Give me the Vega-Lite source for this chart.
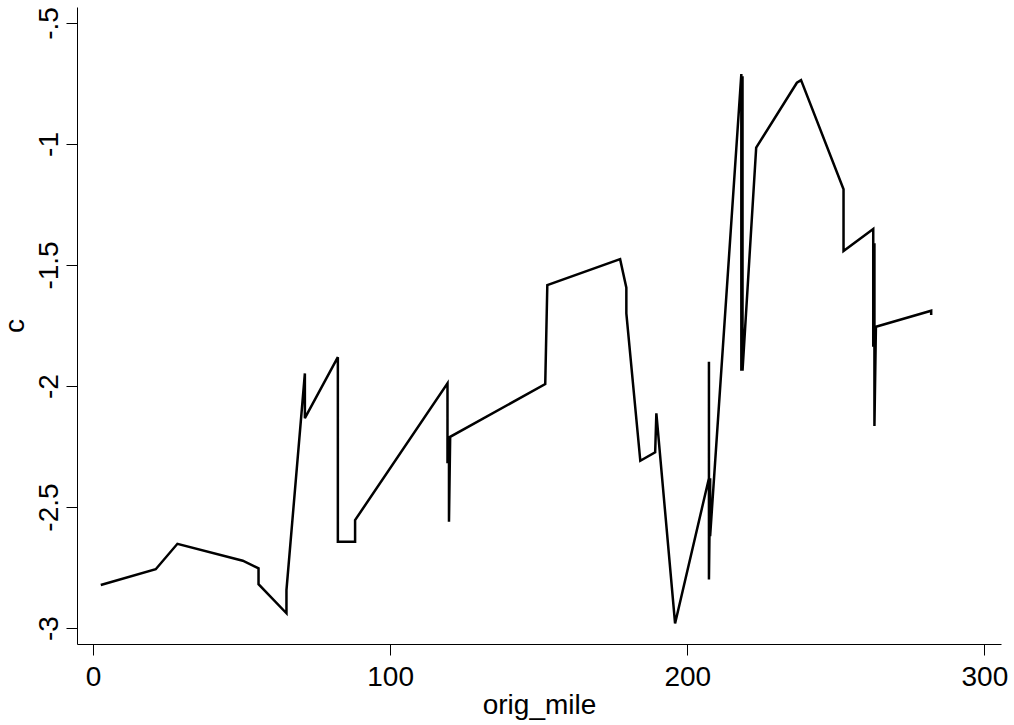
{
  "$schema": "https://vega.github.io/schema/vega-lite/v6.json",
  "width": 924,
  "height": 637,
  "autosize": {"type": "none"},
  "padding": {"left": 77, "top": 7, "right": 13, "bottom": 81},
  "background": "white",
  "config": {
    "view": {"stroke": null},
    "font": "Liberation Sans, Arial, sans-serif",
    "axis": {
      "grid": false,
      "domainColor": "#000000",
      "domainWidth": 1,
      "tickColor": "#000000",
      "tickWidth": 1,
      "tickSize": 11,
      "labelColor": "#000000",
      "titleColor": "#000000",
      "labelFontSize": 28,
      "titleFontSize": 28,
      "titleFontWeight": "normal",
      "labelFont": "Liberation Sans, Arial, sans-serif",
      "titleFont": "Liberation Sans, Arial, sans-serif"
    }
  },
  "data": {
    "values": [
      {"i": 1, "orig_mile": 2.6, "c": -2.822},
      {"i": 2, "orig_mile": 21.1, "c": -2.757},
      {"i": 3, "orig_mile": 28.4, "c": -2.652},
      {"i": 4, "orig_mile": 50.4, "c": -2.722},
      {"i": 5, "orig_mile": 55.7, "c": -2.753},
      {"i": 6, "orig_mile": 55.7, "c": -2.819},
      {"i": 7, "orig_mile": 65.1, "c": -2.939},
      {"i": 8, "orig_mile": 65.1, "c": -2.843},
      {"i": 9, "orig_mile": 71.3, "c": -1.948},
      {"i": 10, "orig_mile": 71.3, "c": -2.133},
      {"i": 11, "orig_mile": 82.4, "c": -1.881},
      {"i": 12, "orig_mile": 82.4, "c": -2.643},
      {"i": 13, "orig_mile": 88.2, "c": -2.643},
      {"i": 14, "orig_mile": 88.2, "c": -2.554},
      {"i": 15, "orig_mile": 119.3, "c": -1.989},
      {"i": 16, "orig_mile": 119.3, "c": -2.319},
      {"i": 17, "orig_mile": 119.8, "c": -2.207},
      {"i": 18, "orig_mile": 119.8, "c": -2.561},
      {"i": 19, "orig_mile": 120.2, "c": -2.21},
      {"i": 20, "orig_mile": 152.2, "c": -1.992},
      {"i": 21, "orig_mile": 152.9, "c": -1.583},
      {"i": 22, "orig_mile": 177.4, "c": -1.476},
      {"i": 23, "orig_mile": 179.5, "c": -1.594},
      {"i": 24, "orig_mile": 179.5, "c": -1.7},
      {"i": 25, "orig_mile": 184.2, "c": -2.309},
      {"i": 26, "orig_mile": 189.2, "c": -2.274},
      {"i": 27, "orig_mile": 189.6, "c": -2.113},
      {"i": 28, "orig_mile": 195.9, "c": -2.981},
      {"i": 29, "orig_mile": 207.3, "c": -2.381},
      {"i": 30, "orig_mile": 207.3, "c": -1.9},
      {"i": 31, "orig_mile": 207.3, "c": -2.799},
      {"i": 32, "orig_mile": 207.7, "c": -2.381},
      {"i": 33, "orig_mile": 207.7, "c": -2.62},
      {"i": 34, "orig_mile": 218.2, "c": -0.711},
      {"i": 35, "orig_mile": 218.2, "c": -1.937},
      {"i": 36, "orig_mile": 218.6, "c": -0.72},
      {"i": 37, "orig_mile": 218.6, "c": -1.937},
      {"i": 38, "orig_mile": 223.2, "c": -1.015},
      {"i": 39, "orig_mile": 236.9, "c": -0.747},
      {"i": 40, "orig_mile": 238.3, "c": -0.736},
      {"i": 41, "orig_mile": 252.6, "c": -1.187},
      {"i": 42, "orig_mile": 252.6, "c": -1.442},
      {"i": 43, "orig_mile": 262.6, "c": -1.351},
      {"i": 44, "orig_mile": 262.6, "c": -1.838},
      {"i": 45, "orig_mile": 263.0, "c": -1.41},
      {"i": 46, "orig_mile": 263.0, "c": -2.165},
      {"i": 47, "orig_mile": 263.5, "c": -1.755},
      {"i": 48, "orig_mile": 282.1, "c": -1.689},
      {"i": 49, "orig_mile": 282.1, "c": -1.707}
    ]
  },
  "mark": {"type": "line", "color": "#000000", "strokeWidth": 2.5, "strokeJoin": "miter"},
  "encoding": {
    "x": {
      "field": "orig_mile",
      "type": "quantitative",
      "scale": {"domain": [-5.4, 305.6], "nice": false, "zero": false},
      "axis": {
        "values": [0, 100, 200, 300],
        "title": "orig_mile",
        "labelPadding": 8,
        "titlePadding": 0,
        "labelFlush": false
      }
    },
    "y": {
      "field": "c",
      "type": "quantitative",
      "scale": {"domain": [-3.066, -0.434], "nice": false, "zero": false},
      "axis": {
        "values": [-3, -2.5, -2, -1.5, -1, -0.5],
        "title": "c",
        "labelAngle": -90,
        "labelAlign": "center",
        "labelBaseline": "alphabetic",
        "labelPadding": 9,
        "labelFlush": false,
        "labelExpr": "datum.value == -0.5 ? '-.5' : '-' + format(abs(datum.value), '~g')",
        "titlePadding": 6
      }
    },
    "order": {"field": "i", "type": "quantitative"}
  }
}
